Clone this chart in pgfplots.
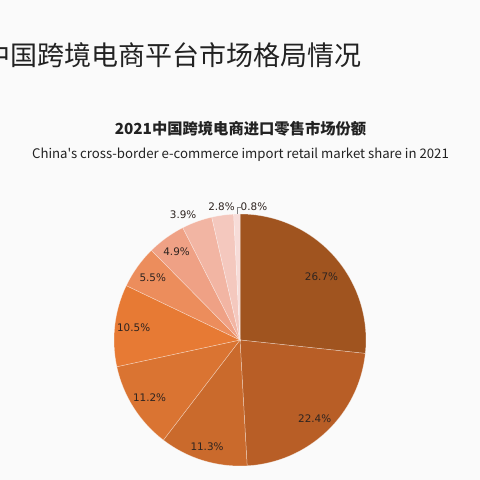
\documentclass[border=0pt]{standalone}
\usepackage{pgfplots}
\pgfplotsset{compat=1.18}
\usepackage{pgfplotstable}
\usepackage{fontspec}
\setmainfont{Noto Sans CJK SC}
\newfontfamily\enfont{Noto Sans CJK SC}[Ligatures=TeXOff]
\newfontfamily\lblfont{DejaVu Sans}
\definecolor{c0}{HTML}{A0541F}
\definecolor{c1}{HTML}{B85E26}
\definecolor{c2}{HTML}{CA6A2C}
\definecolor{c3}{HTML}{DA7432}
\definecolor{c4}{HTML}{E77A34}
\definecolor{c5}{HTML}{EC8D5C}
\definecolor{c6}{HTML}{EFA185}
\definecolor{c7}{HTML}{F2B5A3}
\definecolor{c8}{HTML}{F4C8BE}
\definecolor{c9}{HTML}{F7DCD8}
\definecolor{bg}{HTML}{FAFAFA}
\definecolor{txt}{HTML}{222222}
\definecolor{lbl}{HTML}{2E2420}
\tikzset{lblstyle/.style={font=\lblfont\fontsize{10.4}{12}\selectfont, text=lbl, inner sep=0pt}}
\pgfplotstableread{
value lr ld lead
26.7 0.82 -4 0
22.4 0.86 0 0
11.3 0.89 0 0
11.2 0.85 0 0
10.5 0.85 0 0
5.5 0.85 0 0
4.9 0.86 0 0
3.9 1.09 4.5 0
2.8 1.065 0 0
0.8 1.065 -7.4 1
}\piedata
\begin{document}
\begin{tikzpicture}
\useasboundingbox (0,0) rectangle (480pt,480pt);
\clip (0,0) rectangle (480pt,480pt);
\fill[bg] (0,0) rectangle (480pt,480pt);
\node[anchor=west, inner sep=0pt, font=\fontsize{27}{30}\selectfont, text=txt] at (-17pt,425pt) {中国跨境电商平台市场格局情况};
\node[inner sep=0pt, font=\fontsize{15.3}{18}\selectfont\bfseries, text=txt] at (240.5pt,351pt) {2021中国跨境电商进口零售市场份额};
\node[inner sep=0pt, font=\enfont\fontsize{13.2}{16}\selectfont, text=txt] at (240.5pt,325pt) {China's cross-border e-commerce import retail market share in 2021};
\begin{axis}[at={(240pt,140pt)}, anchor=center, width=252pt, height=252pt, scale only axis,
  xmin=-1, xmax=1, ymin=-1, ymax=1, hide axis, clip=false]
\def\cum{0}
\pgfplotsforeachungrouped \i in {0,...,9}{%
  \pgfplotstablegetelem{\i}{value}\of\piedata \let\v\pgfplotsretval
  \pgfmathsetmacro\a{90-3.6*\cum}
  \pgfmathsetmacro\b{90-3.6*(\cum+\v)}
  \pgfmathsetmacro\sx{cos(\a)}
  \pgfmathsetmacro\sy{sin(\a)}
  \edef\temp{\noexpand\fill[c\i, draw=white, draw opacity=0.45, line width=0.5pt] (axis cs:0,0) -- (axis cs:\sx,\sy) arc[start angle=\a, end angle=\b, radius=126pt] -- cycle;}
  \temp
  \pgfmathsetmacro\cum{\cum+\v}
}
\def\cum{0}
\pgfplotsforeachungrouped \i in {0,...,9}{%
  \pgfplotstablegetelem{\i}{value}\of\piedata \let\v\pgfplotsretval
  \pgfplotstablegetelem{\i}{lr}\of\piedata \let\lr\pgfplotsretval
  \pgfplotstablegetelem{\i}{ld}\of\piedata \let\ld\pgfplotsretval
  \pgfplotstablegetelem{\i}{lead}\of\piedata \let\lead\pgfplotsretval
  \pgfmathsetmacro\m{90-3.6*(\cum+\v/2)}
  \pgfmathsetmacro\lx{\lr*cos(\m+\ld)}
  \pgfmathsetmacro\ly{\lr*sin(\m+\ld)}
  \pgfmathsetmacro\mx{cos(\m)}
  \pgfmathsetmacro\my{sin(\m)}
  \pgfmathsetmacro\mxx{\mx+0.035}
  \edef\temp{\noexpand\node[lblstyle] at (axis cs:\lx,\ly) {\v\noexpand\%};}
  \temp
  \ifnum\lead=1
    \edef\temp{\noexpand\draw[gray, line width=0.5pt] (axis cs:\mx,\my) -- (axis cs:\mx,1.056) -- (axis cs:\mxx,1.056);}
    \temp
  \fi
  \pgfmathsetmacro\cum{\cum+\v}
}
\end{axis}
\end{tikzpicture}
\end{document}
